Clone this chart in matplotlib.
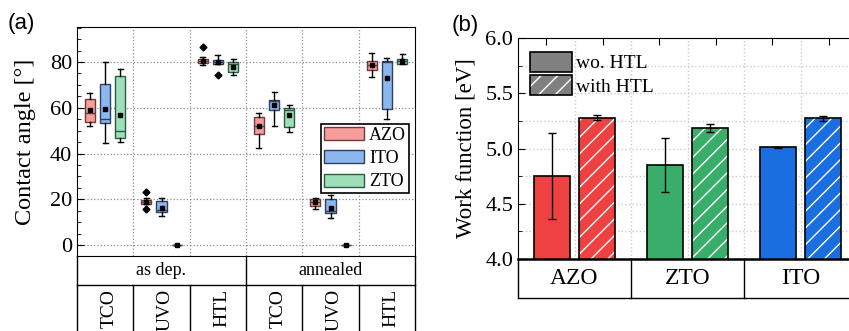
import numpy as np
import matplotlib.pyplot as plt
from matplotlib.patches import Patch
from matplotlib.legend_handler import HandlerTuple
from matplotlib.ticker import MultipleLocator, FormatStrFormatter, FixedLocator

plt.rcParams['font.family'] = 'Liberation Serif'

# ---- (a) contact angle, box statistics per sample ----
materials = ['AZO', 'ITO', 'ZTO']
treatments = ['as dep.', 'annealed']
layers = ['TCO', 'UVO', 'HTL', 'TCO', 'UVO', 'HTL']

azo_whishi = [66.6, 20.4, 82.2, 57.9, 20.4, 83.9]
azo_q3 = [64.0, 19.6, 81.5, 56.0, 19.9, 80.4]
azo_med = [57.9, 18.8, 80.6, 52.1, 18.8, 78.8]
azo_q1 = [53.8, 17.9, 79.6, 48.7, 17.0, 76.7]
azo_whislo = [51.9, 17.9, 78.5, 42.2, 15.7, 73.6]
azo_mean = [58.9, 18.8, 80.3, 51.9, 18.6, 78.8]
azo_fliers = [[], [23.0, 15.7], [86.7], [], [], []]

ito_whishi = [80.0, 20.7, 82.9, 67.1, 21.8, 81.6]
ito_q3 = [70.5, 19.2, 81.0, 63.6, 19.9, 80.4]
ito_med = [55.0, 15.3, 80.0, 63.0, 14.8, 80.0]
ito_q1 = [53.4, 14.4, 79.3, 58.9, 13.8, 59.6]
ito_whislo = [44.4, 12.7, 79.0, 52.2, 11.6, 55.3]
ito_mean = [59.6, 16.4, 80.1, 61.1, 16.3, 73.1]
ito_fliers = [[], [], [74.3], [], [], []]

zto_whishi = [76.8, 0.0, 81.2, 61.1, 0.0, 83.6]
zto_q3 = [73.9, 0.0, 79.9, 60.1, 0.0, 81.5]
zto_med = [49.9, 0.0, 79.0, 58.9, 0.0, 80.6]
zto_q1 = [46.8, 0.0, 75.5, 51.4, 0.0, 79.3]
zto_whislo = [45.1, 0.0, 74.3, 49.2, 0.0, 79.3]
zto_mean = [57.0, 0.0, 78.0, 56.7, 0.0, 80.4]
zto_fliers = [[], [], [], [], [], []]

# ---- (b) work function ----
wf_materials = ['AZO', 'ZTO', 'ITO']
wf_without = [4.75, 4.85, 5.013]
wf_without_err = [0.39, 0.245, 0.005]
wf_with = [5.28, 5.186, 5.273]
wf_with_err = [0.02, 0.04, 0.02]

box_fill = ['#f89c9c', '#8cb6ee', '#9ddfb8']
box_edge = ['#6b3a3a', '#2f3f5c', '#2f5a42']
bar_colors = ['#ef4141', '#38ae6a', '#1b6edf']

fig = plt.figure(figsize=(8.49, 3.31), dpi=100)
ax1 = fig.add_axes([77/849, 75/331, 338/849, 229/331])
ax2 = fig.add_axes([518/849, 72/331, 339/849, 221/331])

# ---------------- panel (a) ----------------
all_stats = [
    (azo_whishi, azo_q3, azo_med, azo_q1, azo_whislo, azo_mean, azo_fliers),
    (ito_whishi, ito_q3, ito_med, ito_q1, ito_whislo, ito_mean, ito_fliers),
    (zto_whishi, zto_q3, zto_med, zto_q1, zto_whislo, zto_mean, zto_fliers),
]
groups = np.arange(len(layers))
offsets = [-0.27, 0.0, 0.27]
for k, (hi, q3, med, q1, lo, mean, fl) in enumerate(all_stats):
    stats = [dict(whishi=hi[i], q3=q3[i], med=med[i], q1=q1[i], whislo=lo[i],
                  mean=mean[i], fliers=fl[i]) for i in range(len(layers))]
    ax1.bxp(stats, positions=groups + offsets[k], widths=0.18, patch_artist=True,
            showmeans=True, manage_ticks=False,
            boxprops=dict(facecolor=box_fill[k], edgecolor=box_edge[k], linewidth=1),
            medianprops=dict(color=box_edge[k], linewidth=1),
            whiskerprops=dict(color='black', linewidth=1),
            capprops=dict(color='black', linewidth=1),
            meanprops=dict(marker='s', markersize=2.5, markerfacecolor='black',
                           markeredgecolor='black'),
            flierprops=dict(marker='D', markersize=3.5, markerfacecolor='black',
                            markeredgecolor='black'))

ax1.set_xlim(-0.5, 5.5)
ax1.set_ylim(-4.8, 95.3)
ax1.yaxis.set_major_locator(MultipleLocator(20))
ax1.yaxis.set_minor_locator(MultipleLocator(5))
ax1.set_xticks([])
ax1.xaxis.set_minor_locator(FixedLocator([0.5, 1.5, 2.5, 3.5, 4.5]))
ax1.tick_params(axis='x', which='both', length=0, labelbottom=False)
ax1.tick_params(axis='y', which='major', direction='in', length=5, labelsize=16)
ax1.tick_params(axis='y', which='minor', direction='in', length=3)
ax1.grid(axis='y', which='major', color='#8c8c8c', linestyle=':', linewidth=0.9)
ax1.grid(axis='x', which='minor', color='#8c8c8c', linestyle=':', linewidth=0.9)
ax1.set_axisbelow(True)
ax1.set_ylabel('Contact angle [°]', fontsize=17.5, labelpad=10)

handles = [Patch(facecolor=box_fill[k], edgecolor=box_edge[k], linewidth=1)
           for k in range(3)]
leg = ax1.legend(handles, materials, loc='upper right', bbox_to_anchor=(0.982, 0.576),
                 fontsize=13, frameon=True, fancybox=False, edgecolor='black',
                 framealpha=1, handlelength=2.2, handleheight=0.75, labelspacing=0.35,
                 handletextpad=0.3, borderpad=0.15, borderaxespad=0)
leg.get_frame().set_linewidth(1.2)

# category table under (a)
t1 = ax1.get_xaxis_transform()
row1 = -29/229
lk = dict(color='black', linewidth=1, transform=t1, clip_on=False)
ax1.plot([-0.5, 5.5], [row1, row1], **lk)
for xv in [-0.5, 2.5, 5.5]:
    ax1.plot([xv, xv], [0, -0.5], **lk)
for xv in [0.5, 1.5, 3.5, 4.5]:
    ax1.plot([xv, xv], [row1, -0.5], **lk)
for j, tr in enumerate(treatments):
    ax1.text(1 + 3*j, row1/2, tr, transform=t1, ha='center', va='center', fontsize=13)
for i, lab in enumerate(layers):
    ax1.text(i + 0.07, row1 - 4/229, lab, transform=t1, rotation=90,
             ha='center', va='top', fontsize=14)

# ---------------- panel (b) ----------------
xb = np.arange(len(wf_materials))
ax2.bar(xb - 0.2, wf_without, width=0.32, color=bar_colors, edgecolor='black',
        linewidth=1.2, zorder=2)
ax2.bar(xb + 0.2, wf_with, width=0.32, color=bar_colors, edgecolor='white',
        hatch='//', linewidth=0, zorder=2)
ax2.bar(xb + 0.2, wf_with, width=0.32, fill=False, edgecolor='black',
        linewidth=1.2, zorder=3)
ax2.errorbar(xb - 0.2, wf_without, yerr=wf_without_err, fmt='none', ecolor='black',
             elinewidth=1, capsize=3, capthick=1, zorder=4)
ax2.errorbar(xb + 0.2, wf_with, yerr=wf_with_err, fmt='none', ecolor='black',
             elinewidth=1, capsize=3, capthick=1, zorder=4)

ax2.set_xlim(-0.5, 2.5)
ax2.set_ylim(4.0, 6.0)
ax2.yaxis.set_major_locator(MultipleLocator(0.5))
ax2.yaxis.set_minor_locator(MultipleLocator(0.25))
ax2.yaxis.set_major_formatter(FormatStrFormatter('%.1f'))
ax2.set_xticks([-0.25, 0.25, 0.75, 1.25, 1.75, 2.25])
ax2.xaxis.set_minor_locator(FixedLocator([0, 0.5, 1, 1.5, 2]))
ax2.tick_params(axis='x', which='major', direction='in', top=True, bottom=False,
                length=5, labelbottom=False)
ax2.tick_params(axis='x', which='minor', length=0)
ax2.tick_params(axis='y', which='major', direction='in', length=5, labelsize=16)
ax2.tick_params(axis='y', which='minor', direction='in', length=3)
ax2.grid(axis='y', which='both', color='#cccccc', linestyle=':', linewidth=1)
ax2.grid(axis='x', which='minor', color='#cccccc', linestyle=':', linewidth=1)
ax2.set_axisbelow(True)
ax2.spines['bottom'].set_linewidth(1.8)
ax2.set_ylabel('Work function [eV]', fontsize=16.5, labelpad=6)

leg_handles = [Patch(facecolor='#808080', edgecolor='black', linewidth=1.2),
               (Patch(facecolor='#808080', edgecolor='white', hatch='//', linewidth=0),
                Patch(fill=False, edgecolor='black', linewidth=1.2))]
ax2.legend(leg_handles, ['wo. HTL', 'with HTL'], loc='upper left',
           bbox_to_anchor=(0.0, 0.99), frameon=False, fontsize=14,
           handlelength=2.2, handleheight=1.2, labelspacing=0.15, handletextpad=0.2,
           borderpad=0.1, handler_map={tuple: HandlerTuple(ndivide=1, pad=0)})

t2 = ax2.get_xaxis_transform()
rowb = -39/221
lk2 = dict(color='black', linewidth=1, transform=t2, clip_on=False)
ax2.plot([-0.5, 2.5], [rowb, rowb], **lk2)
for xv in [-0.5, 0.5, 1.5, 2.5]:
    ax2.plot([xv, xv], [0, rowb], **lk2)
for i, lab in enumerate(wf_materials):
    ax2.text(i, rowb/2, lab, transform=t2, ha='center', va='center', fontsize=17)

fig.text(8/849, 1 - 13/331, '(a)', family='Liberation Sans', fontsize=16, va='top')
fig.text(452/849, 1 - 15/331, '(b)', family='Liberation Sans', fontsize=16, va='top')

fig.savefig('out.png', dpi=100)
